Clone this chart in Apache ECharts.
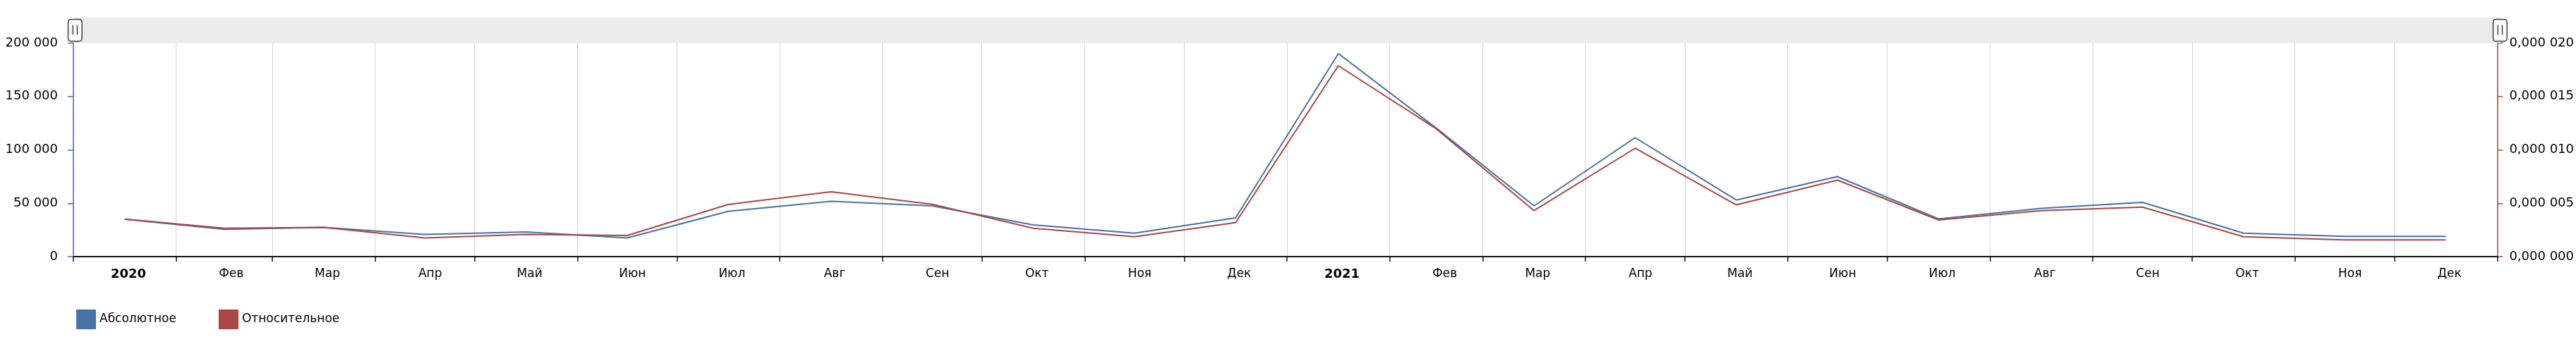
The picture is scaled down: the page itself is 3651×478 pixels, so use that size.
<!DOCTYPE html>
<html>
<head>
<meta charset="utf-8">
<script src="https://cdn.jsdelivr.net/npm/echarts@6/dist/echarts.min.js"></script>
<style>
html,body{margin:0;padding:0;background:#fff;}
#chart{width:3651px;height:478px;}
</style>
</head>
<body>
<div id="chart"></div>
<script>
// ---- data ----
const periods = ['2020-01','2020-02','2020-03','2020-04','2020-05','2020-06','2020-07','2020-08','2020-09','2020-10','2020-11','2020-12',
                 '2021-01','2021-02','2021-03','2021-04','2021-05','2021-06','2021-07','2021-08','2021-09','2021-10','2021-11','2021-12'];
const tickLabels = ['2020','Фев','Мар','Апр','Май','Июн','Июл','Авг','Сен','Окт','Ноя','Дек',
                    '2021','Фев','Мар','Апр','Май','Июн','Июл','Авг','Сен','Окт','Ноя','Дек'];
const absolute = [35000, 25500, 27400, 20800, 23100, 17500, 42400, 51800, 47500, 29700, 22000, 36300,
                  190100, 120400, 47500, 111400, 53000, 74900, 35300, 45200, 50800, 22000, 18900, 18900];
const relative = [0.00000351, 0.00000266, 0.00000274, 0.00000175, 0.00000208, 0.00000198, 0.00000488, 0.00000607, 0.00000490, 0.00000266, 0.00000187, 0.00000318,
                  0.00001787, 0.00001197, 0.00000431, 0.00001015, 0.00000485, 0.00000716, 0.00000343, 0.00000431, 0.00000464, 0.00000187, 0.00000156, 0.00000156];
const seriesNames = ['Абсолютное', 'Относительное'];
const colors = ['#4572A7', '#AA4643'];

// ---- helpers (x is a linear time scale in days since 2020-01-01) ----
const DAY = 86400000;
const EPOCH = Date.UTC(2020, 0, 1);
function toDays(ms){ return (ms - EPOCH) / DAY; }
function monthStart(p){ const [y,m] = p.split('-').map(Number); return toDays(Date.UTC(y, m-1, 1)); }
function monthEnd(p){ const [y,m] = p.split('-').map(Number); return toDays(Date.UTC(y, m, 1)); }
const starts = periods.map(monthStart);
const axisMin = starts[0];
const axisMax = monthEnd(periods[periods.length-1]);
const tickValues = starts.concat([axisMax]);
const mids = periods.map(p => (monthStart(p) + monthEnd(p)) / 2);
const labelValues = starts.map(s => s + 16.6);

function fmtThousands(v){ return String(Math.round(v)).replace(/\B(?=(\d{3})+(?!\d))/g, ' '); }
function fmtRel(v){
  const s = v.toFixed(6);
  const [ip, dp] = s.split('.');
  return ip + ',' + dp.replace(/(\d{3})(?=\d)/g, '$1 ');
}

const FONT = 'DejaVu Sans';
const chart = echarts.init(document.getElementById('chart'), null, {renderer:'canvas'});
chart.setOption({
  animation: false,
  backgroundColor: '#fff',
  textStyle: {fontFamily: FONT},
  grid: {left: 104, right: 108, top: 61, bottom: 114, containLabel: false},
  legend: {
    left: 103, top: 434, itemWidth: 28, itemHeight: 28, itemGap: 60, icon: 'rect',
    textStyle: {fontFamily: FONT, fontSize: 17, color: '#000'},
    data: seriesNames
  },
  dataZoom: [{
    type: 'slider', xAxisIndex: 0, top: 25, height: 36, left: 104, right: 108,
    start: 0, end: 100, filterMode: 'none',
    backgroundColor: '#ebebeb', fillerColor: 'rgba(0,0,0,0)', borderColor: 'transparent',
    showDataShadow: false, showDetail: false, brushSelect: false, moveHandleSize: 0,
    moveHandleStyle: {opacity: 0},
    handleIcon: 'path://M4,0 L15,0 Q19,0 19,4 L19,26 Q19,30 15,30 L4,30 Q0,30 0,26 L0,4 Q0,0 4,0 Z M6.5,9 L6.5,22 M12.5,9 L12.5,22',
    handleSize: 31,
    handleStyle: {color: '#fafafa', borderColor: '#444', borderWidth: 1.5},
    emphasis: {handleStyle: {color: '#fafafa', borderColor: '#444', borderWidth: 1.5}, moveHandleStyle: {opacity: 0}}
  }],
  xAxis: {
    type: 'value', min: axisMin, max: axisMax,
    axisLine: {show: true, onZero: false, lineStyle: {color: '#111', width: 2}},
    axisTick: {show: true, length: 7, customValues: tickValues, lineStyle: {color: '#111', width: 1.5}},
    splitLine: {show: true, lineStyle: {color: '#d4d4d4', width: 1}},
    axisLabel: {
      customValues: labelValues, margin: 16, color: '#000', fontFamily: FONT, fontSize: 17,
      formatter: function(v){
        let best = 0, bd = Infinity;
        labelValues.forEach((lv, i) => { const d = Math.abs(lv - v); if (d < bd) { bd = d; best = i; } });
        const t = tickLabels[best] || '';
        return /^\d{4}$/.test(t) ? '{b|' + t + '}' : t;
      },
      rich: {b: {fontWeight: 'bold', fontSize: 18, color: '#000', fontFamily: FONT}}
    }
  },
  yAxis: [{
    type: 'value', min: 0, max: 200000, interval: 50000, position: 'left',
    axisLine: {show: true, lineStyle: {color: colors[0], width: 1.5}},
    axisTick: {show: true, length: 8, lineStyle: {color: colors[0], width: 1.5}},
    splitLine: {show: false},
    axisLabel: {margin: 22, color: '#000', fontFamily: FONT, fontSize: 18, formatter: fmtThousands}
  }, {
    type: 'value', min: 0, max: 0.00002, interval: 0.000005, position: 'right',
    axisLine: {show: true, lineStyle: {color: colors[1], width: 1.5}},
    axisTick: {show: true, length: 8, lineStyle: {color: colors[1], width: 1.5}},
    splitLine: {show: false},
    axisLabel: {margin: 17, color: '#000', fontFamily: FONT, fontSize: 18, formatter: fmtRel}
  }],
  series: [{
    name: seriesNames[0], type: 'line', yAxisIndex: 0, symbol: 'none',
    itemStyle: {color: colors[0]}, lineStyle: {color: colors[0], width: 2},
    data: mids.map((t,i) => [t, absolute[i]])
  }, {
    name: seriesNames[1], type: 'line', yAxisIndex: 1, symbol: 'none',
    itemStyle: {color: colors[1]}, lineStyle: {color: colors[1], width: 2},
    data: mids.map((t,i) => [t, relative[i]])
  }]
});
</script>
</body>
</html>
